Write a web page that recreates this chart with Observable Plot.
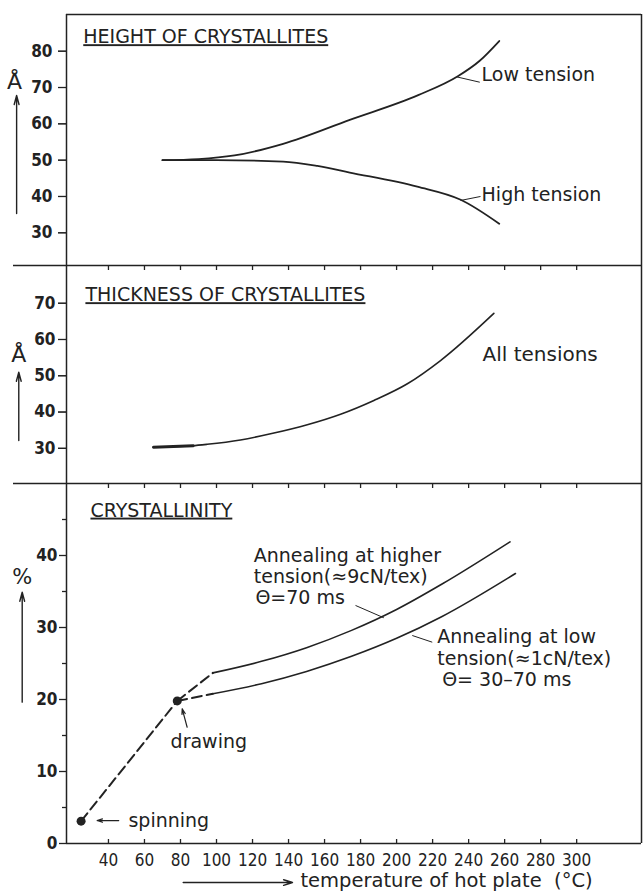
<!DOCTYPE html>
<html><head><meta charset="utf-8">
<script src="https://cdn.jsdelivr.net/npm/d3@7"></script>
<script src="https://cdn.jsdelivr.net/npm/@observablehq/plot@0.6"></script>
<style>
body{margin:0;background:#fff;}
#chart{position:relative;width:643px;height:893px;overflow:hidden;background:#fff;}
#chart svg{position:absolute;left:0;}
</style></head><body><div id="chart"></div>
<script>
// ---------------- data ----------------
const xTickValues = [40, 60, 80, 100, 120, 140, 160, 180, 200, 220, 240, 260, 280, 300];

// Height of crystallites (Å)
const heightLowTemp = [70, 90, 110, 137, 174, 212, 234, 246, 257];
const heightLow     = [50, 50.3, 51.3, 54.5, 61.1, 67.9, 73.1, 77.3, 82.8];
const heightHighTemp = [70, 100, 137, 156, 174, 211.5, 235.6, 257];
const heightHigh     = [50, 50.0, 49.6, 48.4, 46.6, 42.7, 39.1, 32.5];
const heightTicks = [30, 40, 50, 60, 70, 80];

// Thickness of crystallites (Å)
const thickStartTemp = [65, 87];
const thickStartVal  = [30.3, 30.7];
const thickTemp = [65, 86.5, 94.8, 113.3, 131.9, 150.4, 168.9, 187.4, 206, 224.4, 254];
const thickAll  = [30.3, 30.7, 31.1, 32.3, 34.2, 36.5, 39.4, 43.2, 47.8, 54.2, 67.2];
const thickTicks = [30, 40, 50, 60, 70];

// Crystallinity (%)
const processNames = ["spinning", "drawing"];
const processTemp  = [24.8, 78.2];
const processVal   = [3.1, 19.8];
const higherTemp = [98, 125, 150, 175, 200, 225, 263];
const higherVal  = [23.7, 25.3, 27.2, 29.6, 32.5, 36.0, 41.9];
const lowTemp = [98, 125, 150, 175, 200, 225, 266];
const lowVal  = [20.8, 22.2, 23.9, 26.0, 28.5, 31.5, 37.5];
const crystTicks = [0, 10, 20, 30, 40];
const crystMinorTicks = [5, 15, 25, 35, 45];

// ---------------- layout / style ----------------
const W = 643, ML = 66, MR = 2;
const xDomain = [16.7, 336];
const pxX = (W - ML - MR) / (xDomain[1] - xDomain[0]);
const sepLeft = xDomain[0] - (ML - 13) / pxX;
const INK = "#222";
const FONT = "'DejaVu Sans', sans-serif";
const COND = "'DejaVu Sans Condensed', 'DejaVu Sans', sans-serif";
const LABEL_SIZE = 19;
const CURVE = "monotone-x";

const table = (xs, ys) => xs.map((t, i) => ({t, v: ys[i]}));
const tickLen = (px, dom, h) => px * (dom[1] - dom[0]) / h;
const yTicks = (values, px) => Plot.ruleY(values, {x1: xDomain[0] - px / pxX, x2: xDomain[0], stroke: INK, strokeWidth: 1.3});

const chart = document.getElementById("chart");
function addPanel(top, height, mt, mb, yDomain, marks) {
  const svg = Plot.plot({
    width: W, height, marginLeft: ML, marginRight: MR, marginTop: mt, marginBottom: mb,
    x: {domain: xDomain, axis: null},
    y: {domain: yDomain, axis: null},
    style: {background: "transparent", fontFamily: FONT, color: INK, overflow: "visible"},
    marks
  });
  svg.style.top = top + "px";
  chart.appendChild(svg);
  return svg;
}
const txt = (data, extra = {}) => Plot.text(data, {x: "t", y: "v", text: "s", textAnchor: "start", lineAnchor: "bottom", fontSize: LABEL_SIZE, fill: INK, ...extra});
const leader = (data) => Plot.link(data, {x1: "t1", y1: "v1", x2: "t2", y2: "v2", stroke: INK, strokeWidth: 1});
const yArrow = (t, v1, v2) => Plot.arrow([{t, v1, v2}], {x1: "t", x2: "t", y1: "v1", y2: "v2", stroke: INK, strokeWidth: 1.4, headLength: 10, headAngle: 30});

// ---------------- panel 1: height ----------------
const dom1 = [21, 90.1];
addPanel(0, 270, 14, 5, dom1, [
  Plot.ruleY([dom1[1]], {stroke: INK, strokeWidth: 1.5}),
  Plot.ruleX([xDomain[0], xDomain[1]], {stroke: INK, strokeWidth: 1.5}),
  Plot.axisY({ticks: heightTicks, tickSize: 8, tickPadding: 6, label: null, fontFamily: COND, fontSize: 17, fontWeight: "bold"}),
  yTicks(heightTicks, 8),
  Plot.line(table(heightLowTemp, heightLow), {x: "t", y: "v", curve: CURVE, stroke: INK, strokeWidth: 1.8}),
  Plot.line(table(heightHighTemp, heightHigh), {x: "t", y: "v", curve: CURVE, stroke: INK, strokeWidth: 1.8}),
  txt([{s: "HEIGHT OF CRYSTALLITES", t: 26.0, v: 82.2}]),
  txt([{s: "Low tension", t: 247.2, v: 71.9}, {s: "High tension", t: 247.2, v: 38.75}]),
  leader([{t1: 233.6, v1: 72.9, t2: 246.2, v2: 71.46}, {t1: 235.5, v1: 38.9, t2: 246.6, v2: 40.0}]),
  Plot.text([{s: "Å", t: -12.2, v: 69.7}], {x: "t", y: "v", text: "s", lineAnchor: "bottom", fontSize: 22, fill: INK}),
  yArrow(-11.0, 35.3, 67.8)
]);

// ---------------- panel 2: thickness ----------------
const dom2 = [20.3, 80.4], h2 = 218;
addPanel(260, 228, 5, 5, dom2, [
  Plot.ruleY([dom2[1]], {x1: sepLeft, x2: xDomain[1], stroke: INK, strokeWidth: 1.5}),
  Plot.ruleX(xTickValues, {y1: dom2[1], y2: dom2[1] - tickLen(5, dom2, h2), stroke: INK, strokeWidth: 1.3}),
  Plot.ruleX([xDomain[0], xDomain[1]], {stroke: INK, strokeWidth: 1.5}),
  Plot.axisY({ticks: thickTicks, tickSize: 8, tickPadding: 3, label: null, fontFamily: COND, fontSize: 17, fontWeight: "bold"}),
  yTicks(thickTicks, 8),
  Plot.line(table(thickTemp, thickAll), {x: "t", y: "v", curve: CURVE, stroke: INK, strokeWidth: 1.6}),
  Plot.line(table(thickStartTemp, thickStartVal), {x: "t", y: "v", stroke: INK, strokeWidth: 3}),
  txt([{s: "THICKNESS OF CRYSTALLITES", t: 27.2, v: 70.56}]),
  txt([{s: "All tensions", t: 247.7, v: 54.2}], {fontSize: 20}),
  Plot.text([{s: "Å", t: -9.8, v: 53.74}], {x: "t", y: "v", text: "s", lineAnchor: "bottom", fontSize: 22, fill: INK}),
  yArrow(-9.8, 32.15, 50.98)
]);

// ---------------- panel 3: crystallinity ----------------
const dom3 = [0, 50], h3 = 360;
const process = processNames.map((s, i) => ({s, t: processTemp[i], v: processVal[i]}));
const dashed = [
  {g: "a", t: processTemp[0], v: processVal[0]}, {g: "a", t: processTemp[1], v: processVal[1]},
  {g: "b", t: processTemp[1], v: processVal[1]}, {g: "b", t: higherTemp[0], v: higherVal[0]},
  {g: "c", t: processTemp[1], v: processVal[1]}, {g: "c", t: lowTemp[0], v: lowVal[0]}
];
addPanel(478, 415, 5, 50, dom3, [
  Plot.ruleY([dom3[1]], {x1: sepLeft, x2: xDomain[1], stroke: INK, strokeWidth: 1.5}),
  Plot.ruleX(xTickValues, {y1: dom3[1], y2: dom3[1] - tickLen(5, dom3, h3), stroke: INK, strokeWidth: 1.3}),
  Plot.ruleX([xDomain[0], xDomain[1]], {stroke: INK, strokeWidth: 1.5}),
  Plot.ruleY([dom3[0]], {stroke: INK, strokeWidth: 1.5}),
  Plot.ruleX(xTickValues, {y1: dom3[0], y2: dom3[0] + tickLen(4, dom3, h3), stroke: INK, strokeWidth: 1.3}),
  Plot.axisX({ticks: xTickValues, tickSize: 0, tickPadding: 10, label: null, fontFamily: COND, fontSize: 17}),
  Plot.axisY({ticks: crystTicks, tickSize: 7, tickPadding: 2, label: null, fontFamily: COND, fontSize: 17, fontWeight: "bold"}),
  yTicks(crystTicks, 7),
  yTicks(crystMinorTicks, 4),
  Plot.line(dashed, {x: "t", y: "v", z: "g", stroke: INK, strokeWidth: 2, strokeDasharray: "10,5"}),
  Plot.line(table(higherTemp, higherVal), {x: "t", y: "v", curve: CURVE, stroke: INK, strokeWidth: 1.6}),
  Plot.line(table(lowTemp, lowVal), {x: "t", y: "v", curve: CURVE, stroke: INK, strokeWidth: 1.6}),
  Plot.dot(process, {x: "t", y: "v", r: 4.5, fill: INK, stroke: null}),
  txt([{s: "CRYSTALLINITY", t: 30.0, v: 45.4}]),
  txt([
    {s: "Annealing at higher", t: 120.7, v: 39.07},
    {s: "tension(≈9cN/tex)", t: 120.7, v: 36.15},
    {s: "Θ=70 ms", t: 121.6, v: 33.2},
    {s: "Annealing at low", t: 222.6, v: 27.8},
    {s: "tension(≈1cN/tex)", t: 222.6, v: 24.86},
    {s: "Θ= 30–70 ms", t: 225.3, v: 21.94},
    {s: "drawing", t: 74.5, v: 13.33},
    {s: "spinning", t: 51.1, v: 2.36}
  ]),
  leader([{t1: 177.2, v1: 33.06, t2: 192.9, v2: 31.35}, {t1: 208.7, v1: 28.89, t2: 219.8, v2: 27.96}]),
  Plot.arrow([{t1: 83.7, v1: 16.15, t2: 80.95, v2: 18.71}, {t1: 45.7, v1: 3.19, t2: 33.7, v2: 3.19}],
    {x1: "t1", y1: "v1", x2: "t2", y2: "v2", stroke: INK, strokeWidth: 1.2, headLength: 7, headAngle: 35}),
  Plot.text([{s: "%", t: -7.9, v: 36.1}], {x: "t", y: "v", text: "s", lineAnchor: "bottom", fontSize: 21, fill: INK}),
  yArrow(-7.9, 19.63, 34.9),
  Plot.arrow([{t1: 81.5, t2: 142.2, v: -5.42}], {x1: "t1", x2: "t2", y1: "v", y2: "v", stroke: INK, strokeWidth: 1.4, headLength: 10, headAngle: 35}),
  txt([{s: "temperature of hot plate  (°C)", t: 146.6, v: -6.11}], {fontSize: 19.5})
]);

// underline panel titles, keep double spaces
const titles = ["HEIGHT OF CRYSTALLITES", "THICKNESS OF CRYSTALLITES", "CRYSTALLINITY"];
d3.select(chart).selectAll("text")
  .filter(function() { return titles.includes(this.textContent); })
  .style("text-decoration", "underline")
  .style("text-decoration-thickness", "2px")
  .style("text-underline-offset", "4px");
d3.select(chart).selectAll("text")
  .filter(function() { return this.textContent.includes("  "); })
  .style("white-space", "pre");
</script>
</body></html>
